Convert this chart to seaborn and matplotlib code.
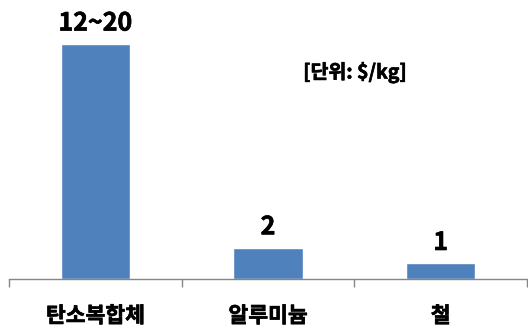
import matplotlib
matplotlib.use("Agg")
import matplotlib.pyplot as plt
import matplotlib.patheffects as pe
import pandas as pd
import seaborn as sns

categories = ["탄소복합체", "알루미늄", "철"]
values = [15, 2, 1]
value_labels = ["12~20", "2", "1"]

sns.set_theme(style="white")
plt.rcParams["font.family"] = ["Noto Sans CJK KR", "DejaVu Sans"]

# fake a heavier weight, the CJK font here has no real bold
bold = [pe.withStroke(linewidth=0.45, foreground="black")]

df = pd.DataFrame({"material": categories, "cost": values})

fig = plt.figure(figsize=(5.28, 3.29), dpi=100)
ax = fig.add_axes([9 / 528, 1 - 279 / 329, 518 / 528, 279 / 329])
sns.barplot(data=df, x="material", y="cost", color="#4F81BD", saturation=1,
            width=0.4, ax=ax)
ax.set_xlim(-0.5, 2.5)
ax.set_ylim(0, 17.8)

texts = ax.bar_label(ax.containers[0], labels=value_labels, padding=6,
                     fontsize=18, fontweight="bold", color="black")
for t in texts:
    t.set_path_effects(bold)

for s in ("top", "right", "left"):
    ax.spines[s].set_visible(False)
ax.spines["bottom"].set_color("#868686")
ax.spines["bottom"].set_linewidth(1)
ax.set_yticks([])
ax.set_xlabel("")
ax.set_ylabel("")
ax.set_xticks([-0.5, 0.5, 1.5, 2.5], minor=True)
ax.tick_params(axis="x", which="minor", bottom=True, length=6, width=1,
               color="#868686", direction="out")
ax.tick_params(axis="x", which="major", length=0, pad=19)
for lbl in ax.get_xticklabels():
    lbl.set_fontsize(15.5)
    lbl.set_fontweight("bold")
    lbl.set_color("black")
    lbl.set_path_effects(bold)

fig.text(355 / 528, 1 - 72 / 329, "[단위: $/kg]", ha="center", va="center",
         fontsize=14, fontweight="bold", color="black", path_effects=bold)

fig.savefig("out.png", dpi=100)
